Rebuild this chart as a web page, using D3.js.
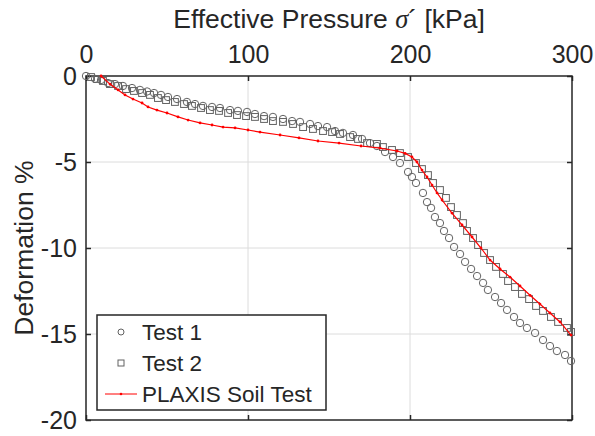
<!DOCTYPE html>
<html>
<head>
<meta charset="utf-8">
<script src="https://cdn.jsdelivr.net/npm/d3@7"></script>
<style>
  body { margin: 0; background: #fff; }
  text { font-family: Arial, "Liberation Sans", sans-serif; fill: #262626; }
</style>
</head>
<body>
<script>
// data
var xTicks = [0, 100, 200, 300];
var yTicks = [0, -5, -10, -15, -20];
var seriesNames = ["Test 1", "Test 2", "PLAXIS Soil Test"];

var test1P = [0, 5.6, 9.3, 13.6, 17.9, 22.8, 28.4, 33.3, 37.7, 42.0, 46.3, 50.6, 56.2, 62.3, 67.3, 72.2, 77.8, 82.7, 88.9, 93.8, 99.4, 104.3, 109.9, 115.4, 121.6, 127.2, 132.1, 138.3, 143.2, 148.8, 153.7, 158.6, 164.8, 170.4, 175.3, 179.6, 184.6, 189.5, 193.8, 198.8, 201.2, 203.7, 208.0, 210.5, 213.0, 215.4, 218.5, 221.0, 224.1, 227.2, 230.9, 234.0, 237.7, 241.4, 245.1, 248.1, 252.5, 256.2, 259.9, 264.2, 267.9, 272.2, 277.2, 282.1, 286.4, 290.7, 295.7, 299.4];
var test1D = [0, -0.17, -0.23, -0.41, -0.47, -0.58, -0.70, -0.81, -0.90, -0.99, -1.10, -1.22, -1.34, -1.51, -1.63, -1.74, -1.80, -1.86, -1.98, -2.03, -2.09, -2.21, -2.33, -2.38, -2.50, -2.62, -2.67, -2.79, -2.91, -2.97, -3.20, -3.31, -3.43, -3.66, -3.90, -4.07, -4.42, -4.71, -5.06, -5.58, -5.87, -6.22, -6.80, -7.33, -7.67, -8.20, -8.55, -9.01, -9.42, -9.94, -10.35, -10.81, -11.22, -11.63, -12.03, -12.44, -12.85, -13.20, -13.60, -14.01, -14.36, -14.65, -14.94, -15.35, -15.70, -15.99, -16.22, -16.57];

var test2P = [3.1, 6.8, 10.5, 14.8, 19.8, 24.7, 29.6, 34.6, 39.5, 44.4, 49.4, 54.9, 60.5, 65.4, 71.0, 76.5, 82.1, 87.7, 93.2, 98.8, 104.3, 109.9, 115.4, 121.6, 127.8, 134.0, 140.1, 146.3, 151.9, 156.8, 163.0, 167.9, 173.5, 179.6, 183.3, 188.9, 193.8, 198.8, 203.7, 207.4, 211.1, 214.2, 218.5, 222.2, 225.3, 229.0, 232.7, 235.2, 238.9, 242.0, 245.7, 249.4, 253.1, 257.4, 260.5, 264.8, 269.1, 273.5, 277.8, 282.1, 287.0, 291.4, 296.9, 299.4];
var test2D = [-0.06, -0.17, -0.29, -0.47, -0.58, -0.76, -0.87, -0.99, -1.10, -1.28, -1.40, -1.51, -1.63, -1.74, -1.86, -1.98, -2.03, -2.15, -2.27, -2.33, -2.38, -2.50, -2.62, -2.67, -2.79, -2.97, -3.08, -3.20, -3.26, -3.37, -3.55, -3.66, -3.90, -3.95, -4.13, -4.30, -4.48, -4.71, -5.06, -5.41, -5.76, -6.22, -6.63, -7.09, -7.62, -8.08, -8.55, -9.01, -9.42, -9.83, -10.29, -10.70, -11.10, -11.51, -11.92, -12.27, -12.67, -12.97, -13.37, -13.66, -14.01, -14.30, -14.65, -14.88];

var plaxisP = [9.3, 14.8, 19.8, 24.1, 29.0, 34.6, 38.3, 43.8, 50.0, 56.8, 63.0, 70.4, 77.8, 84.6, 92.0, 100.0, 107.4, 119.8, 131.5, 143.2, 156.2, 169.8, 181.5, 192.0, 197.0, 201.2, 204.3, 207.4, 210.5, 213.6, 216.7, 219.8, 225.9, 232.1, 238.3, 243.8, 249.4, 255.6, 261.7, 267.9, 274.1, 280.2, 286.4, 292.6, 299.4];
var plaxisD = [0, -0.47, -0.81, -1.10, -1.34, -1.57, -1.80, -1.98, -2.15, -2.38, -2.56, -2.73, -2.85, -2.97, -3.02, -3.14, -3.26, -3.43, -3.60, -3.78, -3.90, -4.07, -4.19, -4.36, -4.50, -4.71, -5.00, -5.47, -5.87, -6.34, -6.80, -7.21, -7.97, -8.66, -9.36, -10.00, -10.70, -11.22, -11.69, -12.21, -12.75, -13.26, -13.78, -14.30, -15.06];

function pairs(p, d) { return p.map(function(v, i) { return {p: v, d: d[i]}; }); }
var test1 = pairs(test1P, test1D);
var test2 = pairs(test2P, test2D);
var plaxis = pairs(plaxisP, plaxisD);

var W = 595, H = 436;
var margin = {left: 86, right: 23, top: 76, bottom: 16};
var ink = "#262626";
var markerCol = "#626262";

var svg = d3.select("body").append("svg")
    .attr("width", W)
    .attr("height", H);

var x = d3.scaleLinear().domain([0, 300]).range([margin.left, W - margin.right]);
var y = d3.scaleLinear().domain([0, -20]).range([margin.top, H - margin.bottom]);

// grid
svg.append("g").selectAll("line.gx")
    .data(xTicks.slice(1, -1))
    .enter().append("line")
    .attr("x1", function(d) { return x(d); })
    .attr("x2", function(d) { return x(d); })
    .attr("y1", y(0)).attr("y2", y(-20))
    .attr("stroke", "#dcdcdc").attr("stroke-width", 1);
svg.append("g").selectAll("line.gy")
    .data(yTicks.slice(1, -1))
    .enter().append("line")
    .attr("y1", function(d) { return y(d); })
    .attr("y2", function(d) { return y(d); })
    .attr("x1", x(0)).attr("x2", x(300))
    .attr("stroke", "#dcdcdc").attr("stroke-width", 1);

// axes (ticks inward)
function styleAxis(g) {
  g.select(".domain").remove();
  g.selectAll(".tick line").attr("stroke", ink).attr("stroke-width", 1.5);
  g.selectAll(".tick text").style("font-size", "25px").attr("fill", ink);
}
var fmt = function(d) { return String(d); };

svg.append("g")
    .attr("transform", "translate(0," + y(0) + ")")
    .call(d3.axisTop(x).tickValues(xTicks).tickSize(-5).tickPadding(13).tickFormat(fmt))
    .call(styleAxis);
svg.append("g")
    .attr("transform", "translate(0," + y(-20) + ")")
    .call(d3.axisBottom(x).tickValues(xTicks).tickSize(-5).tickFormat(""))
    .call(styleAxis);
svg.append("g")
    .attr("transform", "translate(" + x(0) + ",0)")
    .call(d3.axisLeft(y).tickValues(yTicks).tickSize(-5).tickPadding(9).tickFormat(fmt))
    .call(styleAxis);
svg.append("g")
    .attr("transform", "translate(" + x(300) + ",0)")
    .call(d3.axisRight(y).tickValues(yTicks).tickSize(-5).tickFormat(""))
    .call(styleAxis);

// box
svg.append("rect")
    .attr("x", x(0)).attr("y", y(0))
    .attr("width", x(300) - x(0)).attr("height", y(-20) - y(0))
    .attr("fill", "none").attr("stroke", ink).attr("stroke-width", 1.5);

// series
var plot = svg.append("g");

plot.selectAll("circle.t1")
    .data(test1)
    .enter().append("circle")
    .attr("cx", function(d) { return x(d.p); })
    .attr("cy", function(d) { return y(d.d); })
    .attr("r", 3.7)
    .attr("fill", "none").attr("stroke", markerCol).attr("stroke-width", 1);

plot.selectAll("rect.t2")
    .data(test2)
    .enter().append("rect")
    .attr("x", function(d) { return x(d.p) - 3.4; })
    .attr("y", function(d) { return y(d.d) - 3.4; })
    .attr("width", 6.8).attr("height", 6.8)
    .attr("fill", "none").attr("stroke", markerCol).attr("stroke-width", 1);

var line = d3.line()
    .x(function(d) { return x(d.p); })
    .y(function(d) { return y(d.d); });

plot.append("path")
    .datum(plaxis)
    .attr("d", line)
    .attr("fill", "none").attr("stroke", "#ff0000").attr("stroke-width", 1.2);

plot.selectAll("circle.pl")
    .data(plaxis)
    .enter().append("circle")
    .attr("cx", function(d) { return x(d.p); })
    .attr("cy", function(d) { return y(d.d); })
    .attr("r", 1.4)
    .attr("fill", "#ff0000");

// titles
svg.append("text")
    .attr("x", (x(0) + x(300)) / 2)
    .attr("y", 28)
    .attr("text-anchor", "middle")
    .style("font-size", "26.5px")
    .html('Effective Pressure <tspan style="font-family: \'Times New Roman\', \'Liberation Serif\', serif; font-style: italic;">σ</tspan>´ [kPa]');

svg.append("text")
    .attr("transform", "rotate(-90)")
    .attr("x", -(y(0) + y(-20)) / 2)
    .attr("y", 33)
    .attr("text-anchor", "middle")
    .style("font-size", "26.5px")
    .text("Deformation %");

// legend
var lx = 97, ly = 315, lw = 229, lh = 95;
var legend = svg.append("g");
legend.append("rect")
    .attr("x", lx).attr("y", ly).attr("width", lw).attr("height", lh)
    .attr("fill", "#fff").attr("stroke", ink).attr("stroke-width", 1.5);

var rows = legend.selectAll("g.row")
    .data(seriesNames)
    .enter().append("g")
    .attr("transform", function(d, i) { return "translate(" + (lx + 24) + "," + (ly + 17 + i * 31) + ")"; });

rows.append("text")
    .attr("x", 21)
    .attr("dy", "0.36em")
    .style("font-size", "22.5px")
    .attr("fill", "#000")
    .text(function(d) { return d; });

rows.filter(function(d, i) { return i == 0; }).append("circle")
    .attr("r", 3).attr("fill", "none").attr("stroke", markerCol);
rows.filter(function(d, i) { return i == 1; }).append("rect")
    .attr("x", -3).attr("y", -3).attr("width", 6).attr("height", 6)
    .attr("fill", "none").attr("stroke", markerCol);
var plRow = rows.filter(function(d, i) { return i == 2; });
plRow.append("line")
    .attr("x1", -16).attr("x2", 16)
    .attr("stroke", "#ff0000").attr("stroke-width", 1);
plRow.append("circle").attr("r", 1.3).attr("fill", "#ff0000");
</script>
</body>
</html>
